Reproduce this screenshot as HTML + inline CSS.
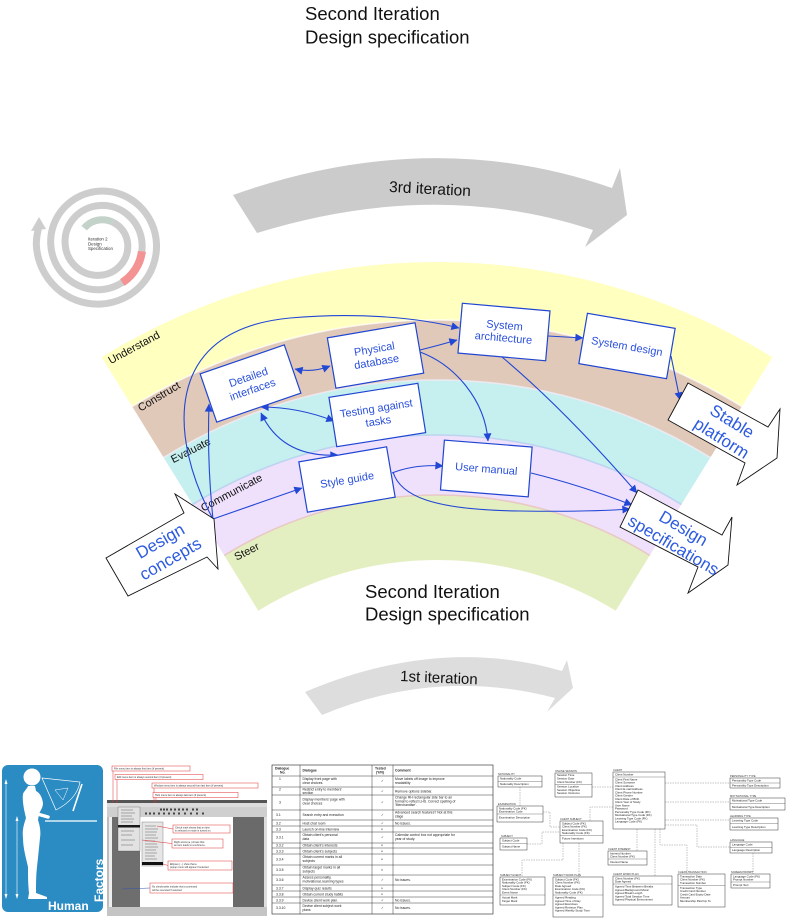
<!DOCTYPE html>
<html><head><meta charset="utf-8">
<style>
html,body{margin:0;padding:0;background:#fff;}
svg{display:block;}
text{font-family:"Liberation Sans",Arial,"DejaVu Sans",sans-serif;}
.bx rect{fill:#fff;stroke:#1f45d2;stroke-width:1.2;}
.bx text{font-size:11px;fill:#2a50dc;text-anchor:middle;}
.ba polygon{fill:#fff;stroke:#111;stroke-width:0.9;}
.ba text{font-size:17px;fill:#2d5be0;text-anchor:middle;}
.lbl{font-size:11px;fill:#111;}
.tb text{font-size:3.4px;fill:#222;}
.tb .h{font-weight:bold;}
.er rect{fill:#fff;stroke:#222;stroke-width:0.45;}
.er text{font-size:2.9px;fill:#222;}
.er .t{font-size:2.6px;fill:#333;}
.er line.s{stroke:#222;stroke-width:0.3;}
.erc{fill:none;stroke:#888;stroke-width:0.5;stroke-dasharray:1.5 1;}
.co rect{fill:#fff;stroke:#d33;stroke-width:0.5;}
.co text{font-size:2.5px;fill:#333;}
</style></head><body>
<svg width="788" height="922" viewBox="0 0 788 922" xmlns="http://www.w3.org/2000/svg">
<defs>
<marker id="ah" viewBox="0 0 10 10" refX="9.5" refY="5" markerWidth="11" markerHeight="8" orient="auto-start-reverse" markerUnits="userSpaceOnUse"><path d="M0,0 L10,5 L0,10 z" fill="#2147d6"/></marker>
</defs>

<!-- top heading -->
<text x="305" y="20" font-size="18.5" fill="#111">Second Iteration</text>
<text x="305" y="43.5" font-size="18.5" fill="#111">Design specification</text>

<!-- 3rd iteration arrow -->
<path d="M233,195 Q430,125 612,188 L620,168 L627,215 L585,247 L593,230 Q435,178 257,233 Z" fill="#cbcbcb"/>
<text x="430" y="194" text-anchor="middle" font-size="15.5" fill="#111" transform="rotate(3 430 190)">3rd iteration</text>

<!-- spiral -->
<g fill="none" stroke-linecap="butt">
<path d="M112.6,222.1 A25.5,25.5 0 0 1 118.3,225.7 A27,27 0 0 1 127.7,244 A28.6,28.6 0 0 1 120.9,264.9 A30.4,30.4 0 0 1 100,275.3 A32.2,32.2 0 0 1 76.6,267.4 A34,34 0 0 1 65.1,244 A35.8,35.8 0 0 1 74,218 A37.6,37.6 0 0 1 100,205.5 A39.4,39.4 0 0 1 128.5,215.5 A41.2,41.2 0 0 1 142.1,244 A43,43 0 0 1 131,275 A44.8,44.8 0 0 1 100,289.7 A46.6,46.6 0 0 1 66.4,277.6 A48.4,48.4 0 0 1 50.7,244 A50.2,50.2 0 0 1 63.9,207.9 A52,52 0 0 1 100,191.1 A53.8,53.8 0 0 1 138.7,205.3 A55.6,55.6 0 0 1 156.5,244 A57.4,57.4 0 0 1 141.2,285.2 A59.2,59.2 0 0 1 100,304.1 A61,61 0 0 1 56.2,287.8 A62.8,62.8 0 0 1 36.3,244 A64,64 0 0 1 38.3,229" stroke="#cdcdcd" stroke-width="7"/>
<path d="M84.2,228.2 A23,23 0 0 1 100,219.9 A24.7,24.7 0 0 1 112.6,222.1" stroke="#c3d3c9" stroke-width="7"/>
<path d="M141.9,251.4 A43.5,43.5 0 0 1 122.3,282.5" stroke="#f39393" stroke-width="8"/>
</g>
<polygon points="31,231 46,229 39,217" fill="#cdcdcd"/>
<text x="88" y="240.5" font-size="4.4" fill="#333">Iteration 2</text>
<text x="88" y="245.3" font-size="4.4" fill="#333">Design</text>
<text x="88" y="250.1" font-size="4.4" fill="#333">Specification</text>

<!-- bands -->
<path d="M101.7,357.2 A638,638 0 0 1 772.3,357.2 L741.8,406.5 A580,580 0 0 0 132.2,406.5 Z" fill="#ffffc0"/>
<path d="M132.2,406.5 A580,580 0 0 1 741.8,406.5 L710.3,457.6 A520,520 0 0 0 163.7,457.6 Z" fill="#e1c9b9"/>
<path d="M163.7,457.6 A520,520 0 0 1 710.3,457.6 L681.4,504.4 A465,465 0 0 0 192.6,504.4 Z" fill="#c6efef"/>
<path d="M192.6,504.4 A465,465 0 0 1 681.4,504.4 L649.8,555.4 A405,405 0 0 0 224.2,555.4 Z" fill="#efe1fb"/>
<path d="M224.2,555.4 A405,405 0 0 1 649.8,555.4 L615.7,610.7 A340,340 0 0 0 258.3,610.7 Z" fill="#e4efc1"/>
<g fill="none" stroke-width="1.6">
<path d="M132.2,406.5 A580,580 0 0 1 741.8,406.5" stroke="#fff" stroke-opacity="0.7"/>
<path d="M163.7,457.6 A520,520 0 0 1 710.3,457.6" stroke="#eeeaf2" stroke-opacity="0.9"/>
<path d="M192.6,504.4 A465,465 0 0 1 681.4,504.4" stroke="#bcd4ef"/>
<path d="M224.2,555.4 A405,405 0 0 1 649.8,555.4" stroke="#e8c9c6"/>
</g>

<!-- band labels -->
<text class="lbl" x="110.7" y="364.3" transform="rotate(-28.5 110.7 364.3)">Understand</text>
<text class="lbl" x="140.7" y="411.7" transform="rotate(-31 140.7 411.7)">Construct</text>
<text class="lbl" x="173.3" y="463.3" transform="rotate(-27 173.3 463.3)">Evaluate</text>
<text class="lbl" x="203.3" y="511.7" transform="rotate(-28 203.3 511.7)">Communicate</text>
<text class="lbl" x="236.7" y="560.7" transform="rotate(-27 236.7 560.7)">Steer</text>

<!-- connectors -->
<g fill="none" stroke="#2147d6" stroke-width="1.1">
<path d="M213,519 L302,488" marker-end="url(#ah)"/>
<path d="M213,519 Q207,462 209,404" marker-end="url(#ah)"/>
<path d="M213,519 C170,440 160,330 290,318 C360,312 420,318 459,328" marker-end="url(#ah)"/>
<path d="M295,369 Q312,373 330,366" marker-start="url(#ah)" marker-end="url(#ah)"/>
<path d="M261,407 Q298,407 334,421" marker-start="url(#ah)" marker-end="url(#ah)"/>
<path d="M261,413 Q282,458 338,455" marker-start="url(#ah)" marker-end="url(#ah)"/>
<path d="M420,350 Q440,345 457,340" marker-end="url(#ah)"/>
<path d="M420,352 C455,365 485,400 488,441" marker-end="url(#ah)"/>
<path d="M548,336 L583,338" marker-end="url(#ah)"/>
<path d="M671,356 L680,400" marker-end="url(#ah)"/>
<path d="M502,357 Q565,410 637,493" marker-end="url(#ah)"/>
<path d="M392,473 Q415,464 443,466" marker-end="url(#ah)"/>
<path d="M531,473 Q580,485 632,505" marker-end="url(#ah)"/>
<path d="M393,472 C400,495 430,510 520,511 Q590,512 630,509" marker-end="url(#ah)"/>
</g>

<!-- boxes -->
<g class="bx">
<g transform="translate(250.5,383.5) rotate(-19)"><rect x="-44.5" y="-25.5" width="89" height="51"/><text y="-3">Detailed</text><text y="10">interfaces</text></g>
<g transform="translate(375.5,355.5) rotate(-9.7)"><rect x="-44.5" y="-25.5" width="89" height="51"/><text y="-3">Physical</text><text y="10">database</text></g>
<g transform="translate(377.3,415) rotate(-9)"><rect x="-45" y="-25" width="90" height="50"/><text y="-3">Testing against</text><text y="10">tasks</text></g>
<g transform="translate(504,332) rotate(5)"><rect x="-44" y="-25" width="88" height="50"/><text y="-3">System</text><text y="9.5">architecture</text></g>
<g transform="translate(627,346) rotate(9.7)"><rect x="-44.5" y="-25.5" width="89" height="51"/><text y="4">System design</text></g>
<g transform="translate(347,479.5) rotate(-9.7)"><rect x="-44.5" y="-25.5" width="89" height="51"/><text y="4">Style guide</text></g>
<g transform="translate(486.3,468.5) rotate(4.5)"><rect x="-44" y="-25" width="88" height="50"/><text y="4">User manual</text></g>
</g>

<!-- block arrows -->
<g class="ba">
<polygon points="106,558 184,513 175,494 214,519 218,569 207,557 128,596"/>
<g transform="translate(165,549.5) rotate(-30)"><text y="-4">Design</text><text y="16.5">concepts</text></g>
<polygon points="688,383 768,427 780,409 777,458 737,485 745,463 668,420"/>
<g transform="translate(727,429.5) rotate(32)"><text y="-4">Stable</text><text y="16">platform</text></g>
<polygon points="638,490 722,535 732,517 728,565 688,593 698,567 620,527"/>
<g transform="translate(678.5,536.7) rotate(30.5)"><text y="-4">Design</text><text y="15.5">specifications</text></g>
</g>

<!-- bottom heading -->
<text x="365" y="598" font-size="18.5" fill="#111">Second Iteration</text>
<text x="365" y="620.5" font-size="18.5" fill="#111">Design specification</text>

<!-- 1st iteration arrow -->
<path d="M305,692 Q440,635 562,671 L567,660 L573,688 L547,712 L555,698 Q437,667 322,715 Z" fill="#dddddd"/>
<text x="400" y="681" font-size="15" fill="#111" transform="rotate(2.5 400 681)">1st iteration</text>

<!-- Human factors -->
<rect x="2" y="765" width="101" height="147" rx="6" fill="#2b8bc3"/>
<g fill="#fff">
<circle cx="32" cy="777" r="8.5"/>
<path d="M28,786 L35,786 L36,791 C40,793 42,797 43,803 C43,808 40,811 39,814 L38,820 C40,826 41,832 40,838 C39,848 38,858 37,867 C36,876 36,886 36,893 L47,897 L47,899 L28,899 L29,893 C28,884 28,876 28,867 C26,858 23,848 23,838 C22,830 24,824 26,818 C24,810 22,800 23,794 C24,791 27,789 28,786 Z"/>
</g>
<g stroke="#fff" fill="none">
<path d="M31,794 L34,813 L48,817" stroke-width="3.5" stroke-linecap="round"/>
<line x1="45" y1="821" x2="97" y2="821" stroke-width="1.3"/>
<path d="M42,778 L80,782 Q77,799 56,810 Z" stroke-width="0.7"/>
<path d="M55,790 L68,788 L63,800 Z" stroke-width="0.5"/>
<line x1="73" y1="811" x2="82" y2="784" stroke-width="1.6"/>
<line x1="6" y1="781" x2="6" y2="897" stroke-width="0.6"/>
<line x1="17" y1="818" x2="17" y2="897" stroke-width="0.6"/>
</g>
<g fill="#fff"><polygon points="4.5,784 7.5,784 6,779"/><polygon points="4.5,894 7.5,894 6,899"/><polygon points="15.5,821 18.5,821 17,816"/><polygon points="15.5,894 18.5,894 17,899"/></g>
<text x="48" y="910" font-size="12" font-weight="bold" fill="#fff">Human</text>
<text x="103" y="902" font-size="12" font-weight="bold" fill="#fff" transform="rotate(-90 103 902)">Factors</text>

<!-- screenshot -->
<g>
<rect x="107" y="800" width="160" height="116" fill="#bdbdbd"/>
<rect x="107" y="800" width="160" height="3" fill="#555"/>
<rect x="107" y="803" width="160" height="4" fill="#dcdcdc"/>
<rect x="107" y="807" width="160" height="10" fill="#cfcfcf"/>
<g fill="#444">
<rect x="160" y="808.5" width="2" height="2"/><rect x="163" y="808.5" width="2" height="2"/><rect x="166" y="808.5" width="2" height="2"/><rect x="170" y="808.5" width="2" height="2"/><rect x="174" y="808.5" width="2" height="2"/><rect x="178" y="808.5" width="2" height="2"/><rect x="182" y="808.5" width="2" height="2"/><rect x="186" y="808.5" width="2" height="2"/><rect x="192" y="808.5" width="2" height="2"/><rect x="196" y="808.5" width="2" height="2"/>
<rect x="145" y="812.5" width="2" height="2"/><rect x="149" y="812.5" width="2" height="2"/><rect x="153" y="812.5" width="2" height="2"/><rect x="158" y="812.5" width="2" height="2"/><rect x="163" y="812.5" width="2" height="2"/><rect x="168" y="812.5" width="2" height="2"/><rect x="173" y="812.5" width="2" height="2"/><rect x="178" y="812.5" width="2" height="2"/><rect x="184" y="812.5" width="2" height="2"/><rect x="190" y="812.5" width="2" height="2"/><rect x="196" y="812.5" width="2" height="2"/><rect x="202" y="812.5" width="2" height="2"/>
</g>
<rect x="109" y="817" width="3" height="90" fill="#eee"/>
<rect x="112" y="817" width="28" height="90" fill="#6e6e6e"/>
<rect x="140" y="817" width="93" height="90" fill="#fff"/>
<rect x="233" y="817" width="31" height="90" fill="#6a6a6a"/>
<rect x="264" y="817" width="3" height="90" fill="#ddd"/>
<rect x="107" y="907" width="160" height="9" fill="#c4c4c4"/>
<rect x="118" y="807" width="22" height="44" fill="#e2e2e2" stroke="#444" stroke-width="0.3"/>
<rect x="118" y="825" width="22" height="2.5" fill="#1a1a1a"/>
<rect x="142" y="822" width="21" height="44" fill="#e6e6e6" stroke="#444" stroke-width="0.3"/>
<rect x="142" y="862" width="21" height="3" fill="#111"/>
<g stroke="#777" stroke-width="0.6">
<line x1="121" y1="810" x2="133" y2="810"/><line x1="121" y1="813" x2="135" y2="813"/><line x1="121" y1="816" x2="132" y2="816"/><line x1="121" y1="819" x2="134" y2="819"/><line x1="121" y1="822" x2="133" y2="822"/><line x1="121" y1="831" x2="134" y2="831"/><line x1="121" y1="835" x2="132" y2="835"/><line x1="121" y1="840" x2="135" y2="840"/><line x1="121" y1="845" x2="133" y2="845"/>
<line x1="145" y1="826" x2="156" y2="826"/><line x1="145" y1="829" x2="158" y2="829"/><line x1="145" y1="832" x2="157" y2="832"/><line x1="145" y1="835" x2="156" y2="835"/><line x1="145" y1="838" x2="158" y2="838"/><line x1="145" y1="841" x2="155" y2="841"/><line x1="145" y1="844" x2="157" y2="844"/><line x1="145" y1="847" x2="158" y2="847"/><line x1="145" y1="850" x2="156" y2="850"/><line x1="145" y1="853" x2="157" y2="853"/><line x1="145" y1="856" x2="155" y2="856"/><line x1="145" y1="859" x2="157" y2="859"/>
</g>
<g stroke="#d33" stroke-width="0.5">
<line x1="113" y1="771" x2="113" y2="803"/><line x1="117" y1="779.5" x2="117" y2="803"/><line x1="154" y1="788" x2="154" y2="803"/><line x1="156" y1="797.5" x2="156" y2="803"/>
<line x1="173" y1="829" x2="157" y2="826"/><line x1="172" y1="843.5" x2="142" y2="840"/><line x1="168" y1="865.5" x2="163" y2="864"/>
</g>
<line x1="150" y1="888" x2="122" y2="889" stroke="#3355aa" stroke-width="0.5"/>
<g class="co">
<rect x="112" y="766" width="78" height="5"/><text x="114" y="769.6">File menu item is always first item (if present)</text>
<rect x="115" y="774.5" width="88" height="5"/><text x="117" y="778.1">Edit menu item is always second item (if present)</text>
<rect x="152" y="783" width="106" height="5"/><text x="154" y="786.6">Window menu item is always second from last item (if present)</text>
<rect x="153" y="792.5" width="85" height="5"/><text x="155" y="796.1">Help menu item is always last item (if present)</text>
<rect x="173" y="825" width="57" height="8"/><text x="175" y="828.5">Check mark shows that an item</text><text x="175" y="831.6">is selected or mode is turned on.</text>
<rect x="172" y="839" width="51" height="9"/><text x="174" y="842.8">Right arrow (►) shows that</text><text x="174" y="846">an item leads to a submenu.</text>
<rect x="168" y="861" width="64" height="9"/><text x="170" y="864.8">Ellipses (...) show that a</text><text x="170" y="868">popup menu will appear if selected</text>
<rect x="150" y="883" width="83" height="10"/><text x="152" y="887.3">No checkmarks indicate that a command</text><text x="152" y="890.8">will be executed if selected</text>
</g>
</g>

<!-- table -->
<g class="tb">
<rect x="272" y="765" width="221" height="149" fill="#fff" stroke="#222" stroke-width="0.6"/>
<g stroke="#222" stroke-width="0.45">
<line x1="300" y1="765" x2="300" y2="914"/><line x1="372" y1="765" x2="372" y2="914"/><line x1="393" y1="765" x2="393" y2="914"/>
<line x1="272" y1="776" x2="493" y2="776"/><line x1="272" y1="787" x2="493" y2="787"/><line x1="272" y1="795" x2="493" y2="795"/><line x1="272" y1="810" x2="493" y2="810"/><line x1="272" y1="820" x2="493" y2="820"/><line x1="272" y1="826" x2="493" y2="826"/><line x1="272" y1="832" x2="493" y2="832"/><line x1="272" y1="843" x2="493" y2="843"/><line x1="272" y1="848" x2="493" y2="848"/><line x1="272" y1="854" x2="493" y2="854"/><line x1="272" y1="865" x2="493" y2="865"/><line x1="272" y1="875" x2="493" y2="875"/><line x1="272" y1="885" x2="493" y2="885"/><line x1="272" y1="891" x2="493" y2="891"/><line x1="272" y1="897" x2="493" y2="897"/><line x1="272" y1="903" x2="493" y2="903"/>
</g>
<text class="h" x="275" y="769.5">Dialogue</text><text class="h" x="280" y="773.5">No.</text>
<text class="h" x="302.5" y="771.5">Dialogue</text>
<text class="h" x="375" y="769.5">Tested</text><text class="h" x="376" y="773.5">(Y/N)</text>
<text class="h" x="395" y="771.5">Comment</text>

<text x="279" y="780">1</text><text x="302.5" y="780">Display front page with</text><text x="302.5" y="784">clear choices.</text><text x="381" y="782">✓</text><text x="395" y="780">Move labels off image to improve</text><text x="395" y="784">readability</text>
<text x="279" y="790.5">2</text><text x="302.5" y="790.5">Restrict entry to members'</text><text x="302.5" y="794">section</text><text x="381" y="792.5">✓</text><text x="395" y="792.5">Remove options sidebar.</text>
<text x="279" y="803.5">3</text><text x="302.5" y="800.5">Display members' page with</text><text x="302.5" y="804.5">clear choices</text><text x="381" y="803.5">✓</text><text x="395" y="798.5">Change RH rectangular side bar to an</text><text x="395" y="802.3">format to reflect LHS.  Correct spelling of</text><text x="395" y="806.1">'Merchandise'.</text>
<text x="276" y="816">3.1</text><text x="302.5" y="816">Search entry and execution</text><text x="381" y="816">✓</text><text x="395" y="813.7">Advanced search features?  Not at this</text><text x="395" y="817.5">stage</text>
<text x="276" y="824.3">3.2</text><text x="302.5" y="824.3">Host chat room</text><text x="381" y="824.3">✓</text><text x="395" y="824.3">No issues.</text>
<text x="276" y="830.3">3.3</text><text x="302.5" y="830.3">Launch on-line interview</text><text x="381" y="830.3">×</text>
<text x="276" y="838.5">3.3.1</text><text x="302.5" y="836">Obtain client's personal</text><text x="302.5" y="840">data</text><text x="381" y="838.5">✓</text><text x="395" y="836">Calendar control box not appropriate for</text><text x="395" y="840">year of study.</text>
<text x="276" y="846.6">3.3.2</text><text x="302.5" y="846.6">Obtain client's interests</text><text x="381" y="846.6">×</text>
<text x="276" y="852.3">3.3.3</text><text x="302.5" y="852.3">Obtain client's subjects</text><text x="381" y="852.3">×</text>
<text x="276" y="860.5">3.3.4</text><text x="302.5" y="858">Obtain current marks in all</text><text x="302.5" y="862">subjects</text><text x="381" y="860.5">×</text>
<text x="276" y="871">3.3.5</text><text x="302.5" y="868.5">Obtain target marks in all</text><text x="302.5" y="872.5">subjects</text><text x="381" y="871">×</text>
<text x="276" y="881">3.3.6</text><text x="302.5" y="878.5">Assess personality,</text><text x="302.5" y="882.5">motivational, learning types</text><text x="381" y="881">✓</text><text x="395" y="881">No issues.</text>
<text x="276" y="889.3">3.3.7</text><text x="302.5" y="889.3">Display quiz results</text><text x="381" y="889.3">×</text>
<text x="276" y="895.3">3.3.8</text><text x="302.5" y="895.3">Obtain current study habits</text><text x="381" y="895.3">×</text>
<text x="276" y="901.3">3.3.9</text><text x="302.5" y="901.3">Devise client work plan.</text><text x="381" y="901.3">✓</text><text x="395" y="901.3">No issues.</text>
<text x="276" y="909">3.3.10</text><text x="302.5" y="907">Devise client subject work</text><text x="302.5" y="911">plans</text><text x="381" y="909">✓</text><text x="395" y="909">No issues.</text>
</g>

<!-- ER diagram -->
<g class="erc">
<path d="M520,787 V806"/>
<path d="M592,787 H613"/>
<path d="M665,783 H730"/>
<path d="M665,802 H730"/>
<path d="M665,820 H730"/>
<path d="M665,825 H697 V847 H730"/>
<path d="M753,853 V874"/>
<path d="M613,807 H590 V821"/>
<path d="M543,812 H550 V827 H560"/>
<path d="M527,844 H542 V832 H560"/>
<path d="M563,843 V860 H522 V877"/>
<path d="M579,843 V877"/>
<path d="M637,829 V851"/>
<path d="M655,829 V876"/>
<path d="M660,829 V845 H687 V874"/>
</g>
<g class="er">
<text class="t" x="498" y="774.8">NATIONALITY</text>
<rect x="498" y="776" width="44" height="11"/><text x="500" y="779.5">Nationality Code</text><line class="s" x1="498" y1="781.5" x2="542" y2="781.5"/><text x="500" y="785">Nationality Description</text>

<text class="t" x="555" y="771.8">ONLINE SESSION</text>
<rect x="555" y="773" width="37" height="24"/><text x="557" y="776.2">Session Time</text><text x="557" y="779.5">Session Date</text><text x="557" y="782.8">Client Number (FK)</text><line class="s" x1="555" y1="784.3" x2="592" y2="784.3"/><text x="557" y="787.5">Session Location</text><text x="557" y="790.8">Session Objective</text><text x="557" y="794.1">Session Outcome</text>

<text class="t" x="613" y="770.8">CLIENT</text>
<rect x="613" y="772" width="52" height="57"/><text x="615" y="775.3">Client Number</text><line class="s" x1="613" y1="777" x2="665" y2="777"/>
<text x="615" y="780.3">Client First Name</text><text x="615" y="783.5">Client Surname</text><text x="615" y="786.8">Client Address</text><text x="615" y="790">Client E-mail Address</text><text x="615" y="793.3">Client Phone Number</text><text x="615" y="796.5">Client Gender</text><text x="615" y="799.8">Client Date of Birth</text><text x="615" y="803">Client Year of Study</text><text x="615" y="806.3">User Name</text><text x="615" y="809.5">Password</text><text x="615" y="812.8">Personality Type Code (FK)</text><text x="615" y="816">Motivational Type Code (FK)</text><text x="615" y="819.3">Learning Type Code (FK)</text><text x="615" y="822.5">Language Code (FK)</text>

<text class="t" x="730" y="776.8">PERSONALITY TYPE</text>
<rect x="730" y="778" width="50" height="10"/><text x="732" y="781.3">Personality Type Code</text><line class="s" x1="730" y1="783" x2="780" y2="783"/><text x="732" y="786.5">Personality Type Description</text>

<text class="t" x="730" y="796.8">MOTIVATIONAL TYPE</text>
<rect x="730" y="798" width="55" height="12"/><text x="732" y="801.5">Motivational Type Code</text><line class="s" x1="730" y1="803.5" x2="785" y2="803.5"/><text x="732" y="807.8">Motivational Type Description</text>

<text class="t" x="730" y="816.8">LEARNING TYPE</text>
<rect x="730" y="818" width="48" height="12"/><text x="732" y="821.5">Learning Type Code</text><line class="s" x1="730" y1="823.5" x2="778" y2="823.5"/><text x="732" y="827.8">Learning Type Description</text>

<text class="t" x="730" y="840.8">LANGUAGE</text>
<rect x="730" y="842" width="42" height="11"/><text x="732" y="845.5">Language Code</text><line class="s" x1="730" y1="847.5" x2="772" y2="847.5"/><text x="732" y="851.2">Language Description</text>

<text class="t" x="731" y="872.8">SCREEN PROMPT</text>
<rect x="731" y="874" width="39" height="14"/><text x="733" y="877.3">Language Code (FK)</text><text x="733" y="880.5">Prompt Number</text><line class="s" x1="731" y1="882" x2="770" y2="882"/><text x="733" y="886">Prompt Text</text>

<text class="t" x="498" y="804.8">EXAMINATION</text>
<rect x="497" y="806" width="46" height="16"/><text x="499" y="809.3">Nationality Code (FK)</text><text x="499" y="812.5">Examination Code</text><line class="s" x1="497" y1="814" x2="543" y2="814"/><text x="499" y="818.5">Examination Description</text>

<text class="t" x="560" y="819.8">CLIENT SUBJECT</text>
<rect x="560" y="821" width="43" height="22"/><text x="562" y="824.3">Subject Code (FK)</text><text x="562" y="827.5">Client Number (FK)</text><text x="562" y="830.8">Examination Code (FK)</text><text x="562" y="834">Nationality Code (FK)</text><line class="s" x1="560" y1="835.5" x2="603" y2="835.5"/><text x="562" y="839.5">Future Intentions</text>

<text class="t" x="501" y="836.8">SUBJECT</text>
<rect x="500" y="838" width="27" height="12"/><text x="502" y="841.3">Subject Code</text><line class="s" x1="500" y1="843.5" x2="527" y2="843.5"/><text x="502" y="847.5">Subject Name</text>

<text class="t" x="608" y="849.8">CLIENT INTEREST</text>
<rect x="608" y="851" width="39" height="14"/><text x="610" y="854.3">Interest Number</text><text x="610" y="857.5">Client Number (FK)</text><line class="s" x1="608" y1="859" x2="647" y2="859"/><text x="610" y="863">Interest Name</text>

<text class="t" x="500" y="875.8">SUBJECT EVENT</text>
<rect x="500" y="877" width="45" height="28"/><text x="502" y="880.3">Examination Code (FK)</text><text x="502" y="883.5">Nationality Code (FK)</text><text x="502" y="886.8">Subject Code (FK)</text><text x="502" y="890">Client Number (FK)</text><text x="502" y="893.3">Event Name</text><line class="s" x1="500" y1="895" x2="545" y2="895"/><text x="502" y="898.5">Actual Mark</text><text x="502" y="901.8">Target Mark</text>

<text class="t" x="553" y="875.8">SUBJECT WORK PLAN</text>
<rect x="553" y="877" width="50" height="40"/><text x="555" y="880.3">Subject Code (FK)</text><text x="555" y="883.5">Client Number (FK)</text><text x="555" y="886.8">Date Agreed</text><text x="555" y="890">Examination Code (FK)</text><text x="555" y="893.3">Nationality Code (FK)</text><line class="s" x1="553" y1="895" x2="603" y2="895"/><text x="555" y="898.5">Agreed Reading</text><text x="555" y="901.8">Agreed Time of Day</text><text x="555" y="905">Agreed Exercises</text><text x="555" y="908.3">Agreed Revision Plan</text><text x="555" y="911.6">Agreed Weekly Study Time</text>

<text class="t" x="613" y="874.8">CLIENT WORK PLAN</text>
<rect x="613" y="876" width="59" height="29"/><text x="615" y="879.3">Client Number (FK)</text><text x="615" y="882.5">Date Agreed</text><line class="s" x1="613" y1="884" x2="672" y2="884"/><text x="615" y="887.5">Agreed Time Between Breaks</text><text x="615" y="890.8">Agreed Background Music</text><text x="615" y="894">Agreed Break Length</text><text x="615" y="897.3">Agreed Total Session Time</text><text x="615" y="900.6">Agreed Physical Environment</text>

<text class="t" x="678" y="872.8">CLIENT TRANSACTION</text>
<rect x="678" y="874" width="47" height="33"/><text x="680" y="877.3">Transaction Date</text><text x="680" y="880.5">Client Number (FK)</text><text x="680" y="883.8">Transaction Number</text><line class="s" x1="678" y1="885.3" x2="725" y2="885.3"/><text x="680" y="888.8">Transaction Type</text><text x="680" y="892">Credit Card Number</text><text x="680" y="895.3">Credit Card Expiry Date</text><text x="680" y="898.5">Amount</text><text x="680" y="901.8">Membership Paid Up To</text>
</g>
</svg>
</body></html>
